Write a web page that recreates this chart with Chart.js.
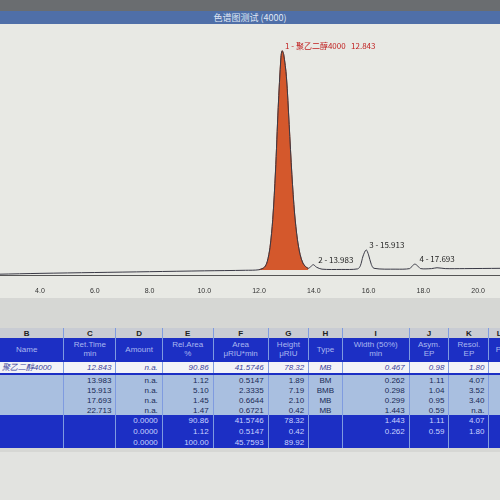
<!DOCTYPE html>
<html><head><meta charset="utf-8">
<script src="https://cdn.jsdelivr.net/npm/chart.js@4"></script>
<style>
body{margin:0;width:500px;height:500px;overflow:hidden;background:#d6d7d4;font-family:"Liberation Sans",Arial,sans-serif;position:relative}
#top{position:absolute;left:0;top:0;width:500px;height:11px;background:#6a6d70}
#bar{position:absolute;left:0;top:11px;width:500px;height:13px;background:#4f6fa8;color:#dfe6f5;font-size:9px;text-align:center;line-height:13px;font-family:"Noto Sans CJK SC",sans-serif}
#plot{position:absolute;left:0;top:24px;width:500px;height:274px;background:#e8e9e4}
table{position:absolute;left:-10px;top:328px;width:520px;border-collapse:collapse;font-size:8px}
td{padding:0 4px;text-align:right;height:10px;border-right:1px solid #7f9be0}
tr.let td{background:#c9ccd3;color:#222;text-align:center;font-weight:bold;height:10px}
tr.hd td{background:#1c2fc4;color:#aab8f0;text-align:center;height:22px}
tr.sel td{background:#f3f3f7;color:#3a3f9a;font-style:italic;border-top:2px solid #1c2fc4;border-bottom:2px solid #1c2fc4}
tr.row td{background:#a9bfe0;color:#1a2a55}
tr.sum td{background:#1c2fc4;color:#c8d2ff;height:11px}
td.c{text-align:center}
#foot{position:absolute;left:0;top:452px;width:500px;height:48px;background:#e2e3e0}
</style></head><body>
<div id="top"></div>
<div id="bar">色谱图测试 (4000)</div>
<div id="plot"><canvas id="myChart" width="500" height="274"></canvas></div>
<table id="tbl"></table>
<div id="foot"></div>
<script>
// chromatogram values (min, μRIU) ==========================================
const times  = [2.5, 4.0, 6.0, 8.0, 10.0, 11.5, 12.0, 12.2, 12.3, 12.4, 12.5, 12.6, 12.7, 12.8, 12.843, 12.9, 13.0, 13.1, 13.2, 13.3, 13.4, 13.5, 13.6, 13.7, 13.8, 13.9, 13.983, 14.1, 14.3, 15.0, 15.6, 15.7, 15.8, 15.913, 16.0, 16.1, 16.2, 17.0, 17.5, 17.6, 17.693, 17.8, 17.9, 18.3, 18.5, 18.8, 19.5, 20.8];
const signal = [-1.5, -1.2, -0.9, -0.6, -0.3, -0.1, 0.1, 1.0, 3.0, 8.0, 18, 35, 58, 76, 78.3, 77, 69, 52, 34, 20, 11, 5.5, 2.5, 1.2, 0.6, 1.3, 1.9, 1.0, 0.3, 0.2, 0.4, 1.5, 5.0, 7.2, 5.4, 2.0, 0.6, 0.3, 0.5, 1.5, 2.1, 1.4, 0.5, 0.5, 0.8, 0.5, 0.5, 0.6];
const mainStart = 6, mainEnd = 24;
const xTicks = [4, 6, 8, 10, 12, 14, 16, 18, 20];
const peakLabels = [["1 - 聚乙二醇4000   12.843", 12.843, 78.3, "#c02020"], ["2 - 13.983", 14.05, 1.9, "#222"], ["3 - 15.913", 15.913, 7.2, "#222"], ["4 - 17.693", 17.75, 2.1, "#222"]];

// table values ===============================================================
const colLetters = ["B", "C", "D", "E", "F", "G", "H", "I", "J", "K", "L"];
const colHeads = ["Name", "Ret.Time<br>min", "Amount", "Rel.Area<br>%", "Area<br>μRIU*min", "Height<br>μRIU", "Type", "Width (50%)<br>min", "Asym.<br>EP", "Resol.<br>EP", "Pl"];
const names    = ["聚乙二醇4000", "", "", "", ""];
const retTime  = ["12.843", "13.983", "15.913", "17.693", "22.713"];
const amount   = ["n.a.", "n.a.", "n.a.", "n.a.", "n.a."];
const relArea  = ["90.86", "1.12", "5.10", "1.45", "1.47"];
const area     = ["41.5746", "0.5147", "2.3335", "0.6644", "0.6721"];
const height   = ["78.32", "1.89", "7.19", "2.10", "0.42"];
const ptype    = ["MB", "BM", "BMB", "MB", "MB"];
const width50  = ["0.467", "0.262", "0.298", "0.299", "1.443"];
const asym     = ["0.98", "1.11", "1.04", "0.95", "0.59"];
const resol    = ["1.80", "4.07", "3.52", "3.40", "n.a."];
const sumRows  = [["", "", "0.0000", "90.86", "41.5746", "78.32", "", "1.443", "1.11", "4.07", ""],
                  ["", "", "0.0000", "1.12", "0.5147", "0.42", "", "0.262", "0.59", "1.80", ""],
                  ["", "", "0.0000", "100.00", "45.7593", "89.92", "", "", "", "", ""]];

let html = "<tr class='let'>" + colLetters.map(c => "<td>" + c + "</td>").join("") + "</tr>";
html += "<tr class='hd'>" + colHeads.map(c => "<td>" + c + "</td>").join("") + "</tr>";
for (let i = 0; i < retTime.length; i++) {
    let cls = i == 0 ? "sel" : "row";
    let cells = [names[i], retTime[i], amount[i], relArea[i], area[i], height[i], ptype[i], width50[i], asym[i], resol[i], ""];
    html += "<tr class='" + cls + "'>" + cells.map((c, j) => "<td" + (j == 0 || j == 6 ? " class='c'" : "") + ">" + c + "</td>").join("") + "</tr>";
}
sumRows.forEach(r => { html += "<tr class='sum'>" + r.map(c => "<td>" + c + "</td>").join("") + "</tr>"; });
document.getElementById("tbl").innerHTML = html;

// chart ======================================================================
const pts = times.map((t, i) => ({ x: t, y: signal[i] }));
const labelPlugin = {
    id: 'peakLabels',
    afterDraw(chart) {
        const ctx = chart.ctx, xs = chart.scales.x, ys = chart.scales.y;
        ctx.save();
        ctx.font = '8px "Noto Sans CJK SC", sans-serif';
        peakLabels.forEach(p => {
            const px = xs.getPixelForValue(p[1]), py = ys.getPixelForValue(p[2]);
            ctx.fillStyle = p[3];
            ctx.fillText(p[0], px + 3, py - 2);
        });
        ctx.restore();
    }
};
new Chart(document.getElementById("myChart"), {
    type: "line",
    data: {
        datasets: [
            { data: pts, borderColor: "#3a3a46", borderWidth: 1, pointRadius: 0, fill: false, tension: 0.3 },
            { data: pts.slice(mainStart, mainEnd + 1), borderColor: "#b2401c", borderWidth: 1, backgroundColor: "#d4582c", pointRadius: 0, fill: "origin", tension: 0.3 }
        ]
    },
    options: {
        responsive: false, animation: false,
        layout: { padding: { top: 22, left: 0, right: 0, bottom: 0 } },
        plugins: { legend: { display: false }, tooltip: { enabled: false } },
        scales: {
            x: {
                type: "linear", min: 2.54, max: 20.8,
                afterBuildTicks: (s) => { s.ticks = xTicks.map(v => ({ value: v })); },
                ticks: { font: { size: 7 }, color: "#333", callback: v => v.toFixed(1) },
                grid: { display: false },
                border: { color: "#555" }
            },
            y: { min: -2, max: 80, display: false }
        }
    },
    plugins: [labelPlugin]
});
</script>
</body></html>
